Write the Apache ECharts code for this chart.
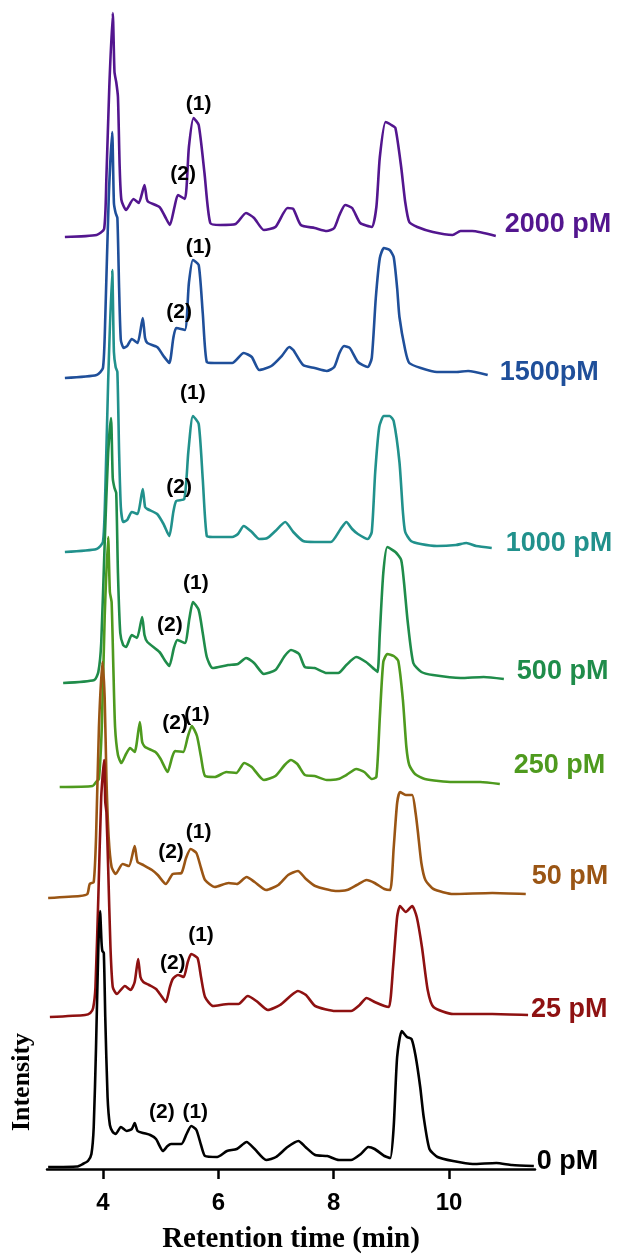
<!DOCTYPE html>
<html>
<head>
<meta charset="utf-8">
<script src="https://cdn.jsdelivr.net/npm/echarts@6/dist/echarts.min.js"></script>
<style>
html,body{margin:0;padding:0;background:#fff;}
#chart{width:617px;height:1254px;}
</style>
</head>
<body>
<div id="chart"></div>
<script>
// ---- DATA (retention time in min, intensity above the trace's own baseline) ----
const traceNames = ['2000 pM','1500pM','1000 pM','500 pM','250 pM','50 pM','25 pM','0 pM'];
const traceBaselines = [932, 791, 617, 486, 382, 271, 152, 2];
const traceColors = ['#53168f','#1f4f9a','#21918c','#1f8c4a','#4e9a1e','#9a5514','#8e1111','#000000'];

const trace2000pM = [[3.34,0],[3.89,2],[4.02,8],[4.06,60],[4.11,150],[4.17,224],[4.2,165],[4.23,155],[4.26,140],[4.29,70],[4.32,37],[4.4,27],[4.53,38],[4.62,34],[4.72,52],[4.76,38],[4.79,35],[4.98,30],[5.08,20],[5.16,12],[5.24,30],[5.3,42],[5.42,38],[5.49,90],[5.57,119],[5.66,112],[5.76,64],[5.86,14],[6.03,12],[6.3,13],[6.48,24],[6.62,19],[6.79,7],[6.99,10],[7.2,29],[7.3,28],[7.43,12],[7.67,9],[7.88,6],[8.01,9],[8.1,22],[8.2,32],[8.32,29],[8.46,14],[8.66,10],[8.74,30],[8.8,80],[8.9,115],[9.0,112],[9.07,109],[9.17,70],[9.24,35],[9.31,15],[9.45,10],[9.72,5],[10.06,2],[10.2,6],[10.4,6],[10.81,1]];
const trace1500pM = [[3.34,0],[3.89,3],[4.0,10],[4.04,60],[4.1,180],[4.16,246],[4.19,175],[4.22,165],[4.25,160],[4.28,90],[4.31,38],[4.36,30],[4.42,32],[4.5,39],[4.6,35],[4.69,60],[4.73,40],[4.77,35],[4.94,31],[5.05,22],[5.15,15],[5.22,40],[5.27,50],[5.42,48],[5.49,95],[5.56,118],[5.66,113],[5.73,65],[5.8,16],[5.93,15],[6.24,15],[6.44,25],[6.58,21],[6.71,8],[6.92,12],[7.1,22],[7.23,31],[7.3,28],[7.47,13],[7.67,10],[7.88,7],[8.01,11],[8.1,25],[8.18,32],[8.28,30],[8.42,16],[8.59,11],[8.66,20],[8.73,80],[8.8,120],[8.87,130],[8.97,128],[9.04,121],[9.1,90],[9.14,61],[9.24,28],[9.31,15],[9.51,10],[9.79,6],[10.12,6],[10.33,7],[10.67,3]];
const trace1000pM = [[3.34,0],[3.89,3],[4.0,10],[4.04,60],[4.09,170],[4.16,282],[4.19,200],[4.22,185],[4.25,180],[4.28,100],[4.31,45],[4.35,30],[4.42,32],[4.5,40],[4.6,38],[4.69,63],[4.73,45],[4.77,43],[4.94,38],[5.05,28],[5.15,16],[5.22,40],[5.27,51],[5.41,53],[5.48,100],[5.56,136],[5.66,128],[5.73,73],[5.8,16],[5.9,15],[6.24,15],[6.34,18],[6.44,26],[6.58,20],[6.71,13],[6.85,14],[6.99,21],[7.16,30],[7.3,20],[7.47,11],[7.67,10],[7.95,10],[8.12,23],[8.22,30],[8.32,23],[8.42,18],[8.59,13],[8.66,20],[8.72,80],[8.79,125],[8.87,136],[8.97,136],[9.04,131],[9.14,90],[9.2,40],[9.24,20],[9.34,11],[9.51,8],[9.79,6],[10.12,7],[10.3,9],[10.47,6],[10.74,4]];
const trace500pM = [[3.31,0],[3.85,3],[3.92,11],[3.97,40],[4.03,140],[4.09,230],[4.14,265],[4.17,205],[4.2,195],[4.23,190],[4.26,110],[4.3,50],[4.35,38],[4.4,36],[4.5,48],[4.59,45],[4.68,66],[4.72,48],[4.77,41],[4.98,31],[5.08,22],[5.15,17],[5.23,35],[5.29,43],[5.42,40],[5.5,65],[5.56,81],[5.66,73],[5.73,50],[5.8,26],[5.9,15],[6.17,18],[6.34,19],[6.48,25],[6.62,20],[6.79,9],[6.99,13],[7.15,27],[7.26,33],[7.4,29],[7.5,16],[7.67,15],[7.88,10],[8.08,10],[8.22,18],[8.39,26],[8.56,21],[8.7,14],[8.76,11],[8.8,50],[8.86,110],[8.93,136],[9.07,131],[9.17,123],[9.22,100],[9.28,63],[9.38,20],[9.52,11],[9.72,8],[10.2,5],[10.6,6],[10.95,4]];
const trace250pM = [[3.25,0],[3.82,1],[3.88,5],[3.93,8],[3.98,60],[4.03,170],[4.09,250],[4.12,195],[4.15,185],[4.18,120],[4.21,60],[4.26,32],[4.32,24],[4.4,33],[4.47,39],[4.55,35],[4.64,65],[4.68,45],[4.73,40],[4.91,35],[5.0,28],[5.12,15],[5.2,30],[5.25,36],[5.39,35],[5.47,50],[5.54,61],[5.63,51],[5.7,30],[5.77,11],[5.94,10],[6.14,15],[6.31,14],[6.45,24],[6.58,20],[6.79,7],[6.99,11],[7.15,22],[7.26,27],[7.37,23],[7.5,12],[7.67,11],[7.88,7],[8.08,8],[8.22,12],[8.39,18],[8.53,15],[8.66,8],[8.74,10],[8.8,70],[8.86,125],[8.93,133],[9.04,131],[9.12,126],[9.2,87],[9.26,40],[9.31,22],[9.41,13],[9.58,8],[10.06,5],[10.54,5],[10.88,3]];
const trace50pM = [[3.05,0],[3.6,2],[3.73,4],[3.77,14],[3.84,16],[3.88,60],[3.93,170],[3.99,236],[4.03,200],[4.06,120],[4.1,60],[4.15,31],[4.22,24],[4.34,34],[4.45,32],[4.55,52],[4.6,36],[4.7,33],[4.85,28],[4.95,23],[5.09,14],[5.21,24],[5.36,25],[5.44,40],[5.52,49],[5.62,45],[5.7,30],[5.77,18],[5.94,11],[6.18,15],[6.32,14],[6.49,21],[6.63,16],[6.83,8],[7.04,13],[7.21,23],[7.38,27],[7.52,19],[7.68,12],[8.03,7],[8.23,8],[8.4,13],[8.57,18],[8.71,15],[8.88,9],[8.98,8],[9.04,50],[9.1,95],[9.15,106],[9.25,103],[9.36,103],[9.42,85],[9.46,66],[9.52,35],[9.59,18],[9.73,9],[10.07,4],[10.75,5],[11.33,4]];
const trace25pM = [[3.08,0],[3.69,2],[3.78,4],[3.83,9],[3.87,30],[3.92,120],[3.97,220],[4.02,257],[4.04,215],[4.06,205],[4.09,150],[4.13,70],[4.17,30],[4.24,23],[4.38,31],[4.48,27],[4.55,35],[4.61,58],[4.65,40],[4.7,35],[4.8,32],[4.92,28],[5.0,22],[5.09,15],[5.16,30],[5.21,38],[5.3,42],[5.4,40],[5.47,55],[5.53,63],[5.64,59],[5.7,40],[5.77,20],[5.91,11],[6.18,13],[6.35,13],[6.51,21],[6.66,16],[6.86,7],[7.07,12],[7.25,21],[7.38,26],[7.52,22],[7.68,11],[8.03,6],[8.3,6],[8.45,12],[8.57,19],[8.71,15],[8.88,11],[8.96,10],[9.03,50],[9.1,100],[9.15,111],[9.25,105],[9.36,111],[9.44,100],[9.53,70],[9.63,27],[9.73,10],[10.07,3],[10.75,3],[11.37,2]];
const trace0pM = [[3.05,0],[3.55,0.5],[3.65,3],[3.74,6],[3.8,13],[3.84,40],[3.88,120],[3.92,220],[3.95,256],[3.975,225],[3.99,216],[4.015,214],[4.04,150],[4.08,70],[4.12,42],[4.17,35],[4.22,33],[4.31,40],[4.41,36],[4.5,38],[4.55,44],[4.6,36],[4.7,34],[4.82,32],[4.92,28],[5.04,16],[5.12,21],[5.18,23],[5.36,23],[5.45,33],[5.53,41],[5.62,37],[5.7,22],[5.77,11],[5.98,10],[6.15,16],[6.32,18],[6.49,25],[6.63,18],[6.83,7],[7.0,10],[7.2,20],[7.39,26],[7.51,20],[7.68,12],[7.89,11],[8.09,7],[8.3,7],[8.47,13],[8.6,20],[8.71,18],[8.88,11],[8.98,9],[9.04,40],[9.1,110],[9.18,136],[9.27,130],[9.35,128],[9.42,111],[9.5,80],[9.56,50],[9.66,18],[9.8,10],[10.07,6],[10.41,3],[10.82,4],[11.09,2],[11.47,1]];
const traces = [trace2000pM, trace1500pM, trace1000pM, trace500pM, trace250pM, trace50pM, trace25pM, trace0pM];

// peak annotations: [time, height above baseline] for "(1)" and "(2)"
const peak1Labels = [[5.66,133],[5.66,131],[5.56,159],[5.61,100],[5.63,72],[5.66,66],[5.70,82],[5.60,55]];
const peak2Labels = [[5.39,63],[5.32,66],[5.32,65],[5.16,58],[5.25,64],[5.18,46],[5.21,54],[5.02,55]];

const xTicks = [4, 6, 8, 10];

// ---- layout/style (not data) ----
const endLabelOffsets = [[0,-11],[0,-2],[0,-4],[0,-7],[0,-18],[0,-17],[0,-5],[0,-4]];
const endLabelDistance = [9,12,14,13,14,6,3,3];
const sansBold = '"Liberation Sans", Arial, sans-serif';
const serifBold = '"Liberation Serif", "Times New Roman", serif';

const series = traceNames.map((name, i) => ({
  name: name,
  type: 'line',
  data: traces[i].map(p => [p[0], p[1] + traceBaselines[i]]),
  showSymbol: false,
  symbol: 'none',
  smooth: 0.2,
  lineStyle: { color: traceColors[i], width: 2.6 },
  itemStyle: { color: traceColors[i] },
  z: 2 + i,
  endLabel: {
    show: true,
    formatter: '{a}',
    color: traceColors[i],
    fontSize: 27,
    fontWeight: 'bold',
    fontFamily: sansBold,
    distance: endLabelDistance[i],
    offset: endLabelOffsets[i]
  },
  markPoint: {
    symbol: 'circle',
    symbolSize: 0,
    silent: true,
    label: {
      show: true,
      position: 'inside',
      formatter: '{b}',
      color: '#000',
      fontSize: 21,
      fontWeight: 'bold',
      fontFamily: sansBold
    },
    data: [
      { name: '(1)', coord: [peak1Labels[i][0], peak1Labels[i][1] + traceBaselines[i]] },
      { name: '(2)', coord: [peak2Labels[i][0], peak2Labels[i][1] + traceBaselines[i]] }
    ]
  }
}));

const chart = echarts.init(document.getElementById('chart'), null, { renderer: 'canvas' });
chart.setOption({
  animation: false,
  backgroundColor: '#ffffff',
  grid: { left: 47, right: 82, top: 0, bottom: 85, containLabel: false, outerBoundsMode: 'none' },
  xAxis: {
    type: 'value',
    min: 3.03,
    max: 11.49,
    axisLine: { onZero: false, lineStyle: { color: '#000', width: 2.5 } },
    axisTick: { show: true, customValues: xTicks, length: 10, inside: false, lineStyle: { color: '#000', width: 2.5 } },
    axisLabel: { customValues: xTicks, color: '#000', fontSize: 24, fontWeight: 'bold', fontFamily: sansBold, margin: 22 },
    splitLine: { show: false },
    name: 'Retention time (min)',
    nameLocation: 'middle',
    nameGap: 56,
    nameTextStyle: { color: '#000', fontSize: 29, fontWeight: 'bold', fontFamily: serifBold }
  },
  yAxis: { type: 'value', min: 0, max: 1169, show: false },
  graphic: [{
    type: 'text',
    x: 22, y: 1082,
    rotation: Math.PI / 2,
    style: {
      text: 'Intensity',
      font: 'bold 26px "Liberation Serif", "Times New Roman", serif',
      fill: '#000',
      align: 'center',
      verticalAlign: 'middle'
    }
  }],
  series: series
});
</script>
</body>
</html>
